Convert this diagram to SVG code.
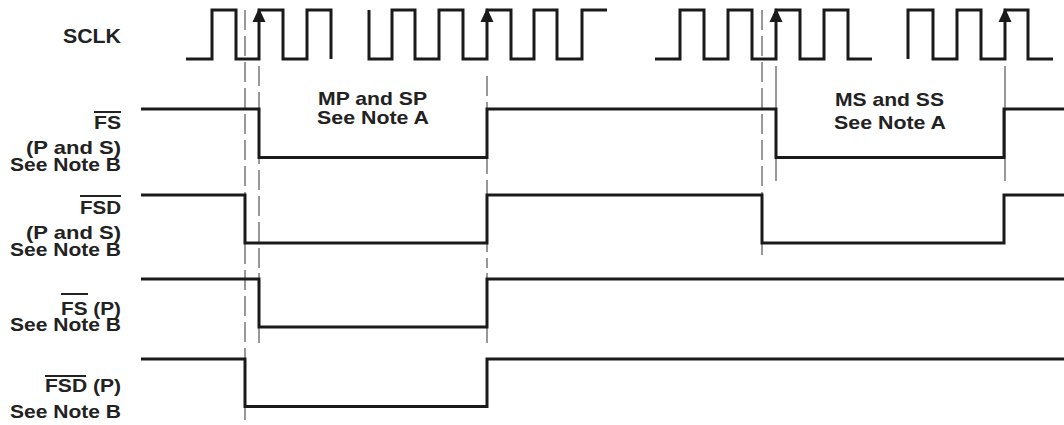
<svg xmlns="http://www.w3.org/2000/svg" xmlns:xlink="http://www.w3.org/1999/xlink" width="1064" height="425" viewBox="0 0 1064 425">
<style>
.sig{fill:none;stroke:#1a1a1a;stroke-width:3;stroke-linejoin:miter;stroke-linecap:butt}
.ref{fill:none;stroke:#333;stroke-width:1}
.dash{stroke-dasharray:20 6}
.lbl{font-family:"Liberation Sans",Arial,Helvetica,sans-serif;font-weight:bold;font-size:19px;fill:#222}
.bar{stroke:#222;stroke-width:2}
</style>
<defs>
<path id="ah" d="M0,0 L-6.5,14 L6.5,14 Z" fill="#1a1a1a"/>
</defs>
<rect width="1064" height="425" fill="#fff"/>
<g id="refs">
<line class="ref dash" x1="245" y1="10" x2="245" y2="425"/>
<line class="ref dash" x1="259" y1="66" x2="259" y2="268"/>
<line class="ref" x1="259" y1="273" x2="259" y2="343"/>
<line class="ref dash" x1="487" y1="76" x2="487" y2="268"/>
<line class="ref" x1="487" y1="273" x2="487" y2="343"/>
<line class="ref dash" x1="762" y1="10" x2="762" y2="255"/>
<line class="ref" x1="776" y1="66" x2="776" y2="181"/>
<line class="ref" x1="1005" y1="66" x2="1005" y2="181"/>
</g>
<g id="sclk">
<text class="lbl" x="63" y="43" textLength="58" lengthAdjust="spacingAndGlyphs" style="font-size:20px">SCLK</text>
<path class="sig" d="M186,59 H212 V10 H236 V59 H259 V10 H283 V59 H307 V10 H331 V59"/>
<path class="sig" d="M369,10 V59 H392 V10 H415 V59 H439 V10 H463 V59 H487 V10 H511 V59 H534 V10 H557 V59 H582 V10 H607"/>
<path class="sig" d="M655,59 H680 V10 H704 V59 H728 V10 H752 V59 H776 V10 H800 V59 H824 V10 H848 V59 H872"/>
<path class="sig" d="M908,59 V10 H933 V59 H957 V10 H981 V59 H1005 V10 H1028 V59 H1053"/>
<use xlink:href="#ah" href="#ah" x="259" y="8"/>
<use xlink:href="#ah" href="#ah" x="487" y="8"/>
<use xlink:href="#ah" href="#ah" x="776" y="8"/>
<use xlink:href="#ah" href="#ah" x="1005" y="8"/>
</g>
<g id="fs-ps">
<line class="bar" x1="94" y1="112" x2="121" y2="112"/>
<text class="lbl" x="94" y="129" textLength="27" lengthAdjust="spacingAndGlyphs">FS</text>
<text class="lbl" x="26" y="154" textLength="95" lengthAdjust="spacingAndGlyphs">(P and S)</text>
<text class="lbl" x="10" y="171" textLength="111" lengthAdjust="spacingAndGlyphs">See Note B</text>
<path class="sig" d="M141,109 H259 V157.5 H487 V109 H776 V157.5 H1004 V109 H1064"/>
</g>
<g id="fsd-ps">
<line class="bar" x1="80" y1="196" x2="121" y2="196"/>
<text class="lbl" x="80" y="214" textLength="41" lengthAdjust="spacingAndGlyphs">FSD</text>
<text class="lbl" x="26" y="239" textLength="95" lengthAdjust="spacingAndGlyphs">(P and S)</text>
<text class="lbl" x="10" y="256" textLength="111" lengthAdjust="spacingAndGlyphs">See Note B</text>
<path class="sig" d="M141,195 H245 V243 H487 V195 H762 V243 H1004 V195 H1064"/>
</g>
<g id="fs-p">
<line class="bar" x1="61" y1="294" x2="88" y2="294"/>
<text class="lbl" x="61" y="315" textLength="60" lengthAdjust="spacingAndGlyphs">FS (P)</text>
<text class="lbl" x="10" y="331" textLength="111" lengthAdjust="spacingAndGlyphs">See Note B</text>
<path class="sig" d="M141,279 H259 V327 H487 V279 H1064"/>
</g>
<g id="fsd-p">
<line class="bar" x1="45" y1="376" x2="86" y2="376"/>
<text class="lbl" x="45" y="392" textLength="76" lengthAdjust="spacingAndGlyphs">FSD (P)</text>
<text class="lbl" x="10" y="418" textLength="111" lengthAdjust="spacingAndGlyphs">See Note B</text>
<path class="sig" d="M141,359 H245 V406.5 H487 V359 H1064"/>
</g>
<g id="note-mp">
<text class="lbl" x="318" y="105" textLength="109" lengthAdjust="spacingAndGlyphs">MP and SP</text>
<text class="lbl" x="317" y="124" textLength="112" lengthAdjust="spacingAndGlyphs">See Note A</text>
</g>
<g id="note-ms">
<text class="lbl" x="835" y="106" textLength="109" lengthAdjust="spacingAndGlyphs">MS and SS</text>
<text class="lbl" x="834" y="129" textLength="112" lengthAdjust="spacingAndGlyphs">See Note A</text>
</g>
</svg>
